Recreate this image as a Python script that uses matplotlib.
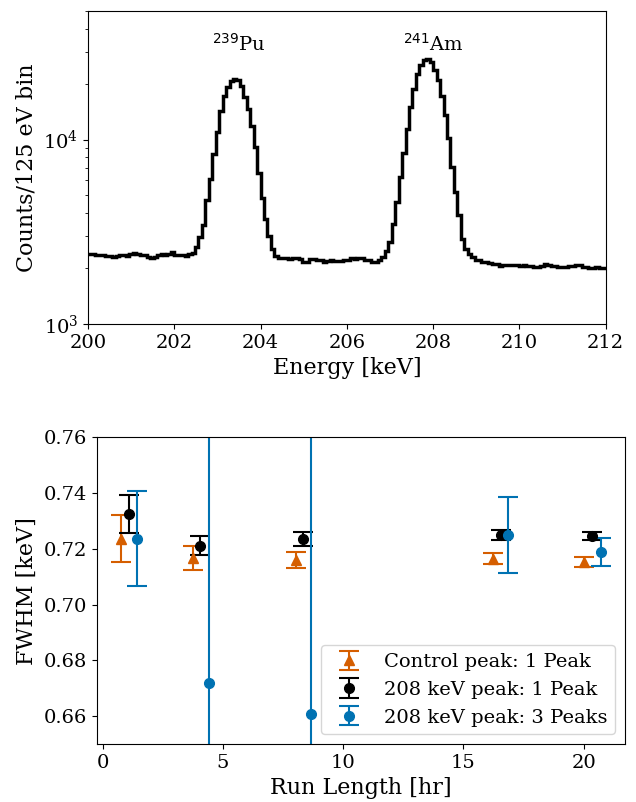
import numpy as np
import matplotlib
matplotlib.use("Agg")
import matplotlib.pyplot as plt

plt.rcParams['font.family'] = ['DejaVu Serif']

# ---------------- Data ----------------
energy_lo, energy_hi = 200.0, 212.0
counts = [
    2390, 2400, 2380, 2370, 2360, 2350, 2330, 2310, 2350, 2360,
    2370, 2350, 2400, 2440, 2400, 2380, 2370, 2320, 2290, 2310,
    2380, 2400, 2360, 2390, 2450, 2380, 2360, 2370, 2350, 2390,
    2420, 2600, 2950, 3450, 4700, 6100, 8400, 11000, 14300, 17200,
    19300, 20700, 21300, 21000, 19600, 17000, 14700, 11900, 9100, 6600,
    4800, 3700, 3000, 2560, 2330,
    2280, 2270, 2290, 2260, 2270, 2280, 2250, 2170, 2160, 2250,
    2260, 2230, 2210, 2180, 2190, 2210, 2200, 2190, 2200, 2230,
    2220, 2270, 2250, 2290, 2270, 2230, 2220, 2170, 2160,
    2220, 2300, 2500, 2780, 3500, 4600, 6300, 8500, 11400, 15000,
    18900, 22600, 25500, 26900, 27200, 26200, 23900, 21000, 17300, 13600,
    10200, 7100, 5200, 3900, 2900, 2550, 2400, 2300, 2210,
    2230, 2160, 2180, 2150, 2110, 2120, 2070, 2080, 2100, 2080,
    2090, 2080, 2070, 2090, 2060, 2070, 2040, 2030, 2060, 2110,
    2090, 2060, 2070, 2050, 2040, 2050, 2060, 2070, 2090, 2080,
    2040, 2030, 2010, 2000, 2040, 2020, 2020,
]
peak_labels = [r"$^{239}$Pu", r"$^{241}$Am"]
peak_label_x = [203.5, 208.0]
peak_label_y = [3.3e4, 3.3e4]

ctrl_t = [0.77, 3.75, 8.05, 16.25, 20.0]
ctrl_fwhm = [0.7236, 0.7166, 0.7160, 0.7164, 0.7152]
ctrl_err = [0.0084, 0.0043, 0.0030, 0.0020, 0.0018]

one_t = [1.09, 4.05, 8.35, 16.55, 20.36]
one_fwhm = [0.7325, 0.7212, 0.7236, 0.7250, 0.7245]
one_err = [0.0068, 0.0035, 0.0025, 0.0017, 0.0015]

three_t = [1.41, 4.42, 8.67, 16.87, 20.70]
three_fwhm = [0.7236, 0.6718, 0.6608, 0.7250, 0.7190]
three_err = [0.0170, 0.30, 0.30, 0.0136, 0.0050]

orange = '#D55E00'
blue = '#0072B2'

fig = plt.figure(figsize=(6.36, 8.02), dpi=100)

# ---------------- Top: spectrum ----------------
ax1 = fig.add_axes([0.1384, 0.596, 0.814, 0.3907])
edges = np.linspace(energy_lo, energy_hi, len(counts) + 1)
ax1.stairs(counts, edges, color='black', lw=2.5, baseline=None)
ax1.set_yscale('log')
ax1.set_ylim(1e3, 5e4)
ax1.set_xlim(200, 212)
ax1.set_xticks([200, 202, 204, 206, 208, 210, 212])
ax1.tick_params(labelsize=14)
ax1.set_xlabel('Energy [keV]', fontsize=16)
ax1.set_ylabel('Counts/125 eV bin', fontsize=16)
for lab, x, y in zip(peak_labels, peak_label_x, peak_label_y):
    ax1.text(x, y, lab, ha='center', va='center', fontsize=14)

# ---------------- Bottom: FWHM ----------------
ax2 = fig.add_axes([0.152, 0.0723, 0.830, 0.3824])
kw = dict(ms=7, capsize=7, elinewidth=1.5, capthick=1.5)
ax2.errorbar(ctrl_t, ctrl_fwhm, yerr=ctrl_err, fmt='^', color=orange,
             label='Control peak: 1 Peak', **kw)
ax2.errorbar(one_t, one_fwhm, yerr=one_err, fmt='o', color='black',
             label='208 keV peak: 1 Peak', **kw)
ax2.errorbar(three_t, three_fwhm, yerr=three_err, fmt='o', color=blue,
             label='208 keV peak: 3 Peaks', **kw)
ax2.set_ylim(0.65, 0.76)
ax2.set_xlim(-0.25, 21.7)
ax2.set_yticks([0.66, 0.68, 0.70, 0.72, 0.74, 0.76])
ax2.set_xticks([0, 5, 10, 15, 20])
ax2.tick_params(labelsize=14)
ax2.set_xlabel('Run Length [hr]', fontsize=16)
ax2.set_ylabel('FWHM [keV]', fontsize=16)
ax2.legend(loc='lower right', fontsize=14)

fig.savefig('out.png', dpi=100)
